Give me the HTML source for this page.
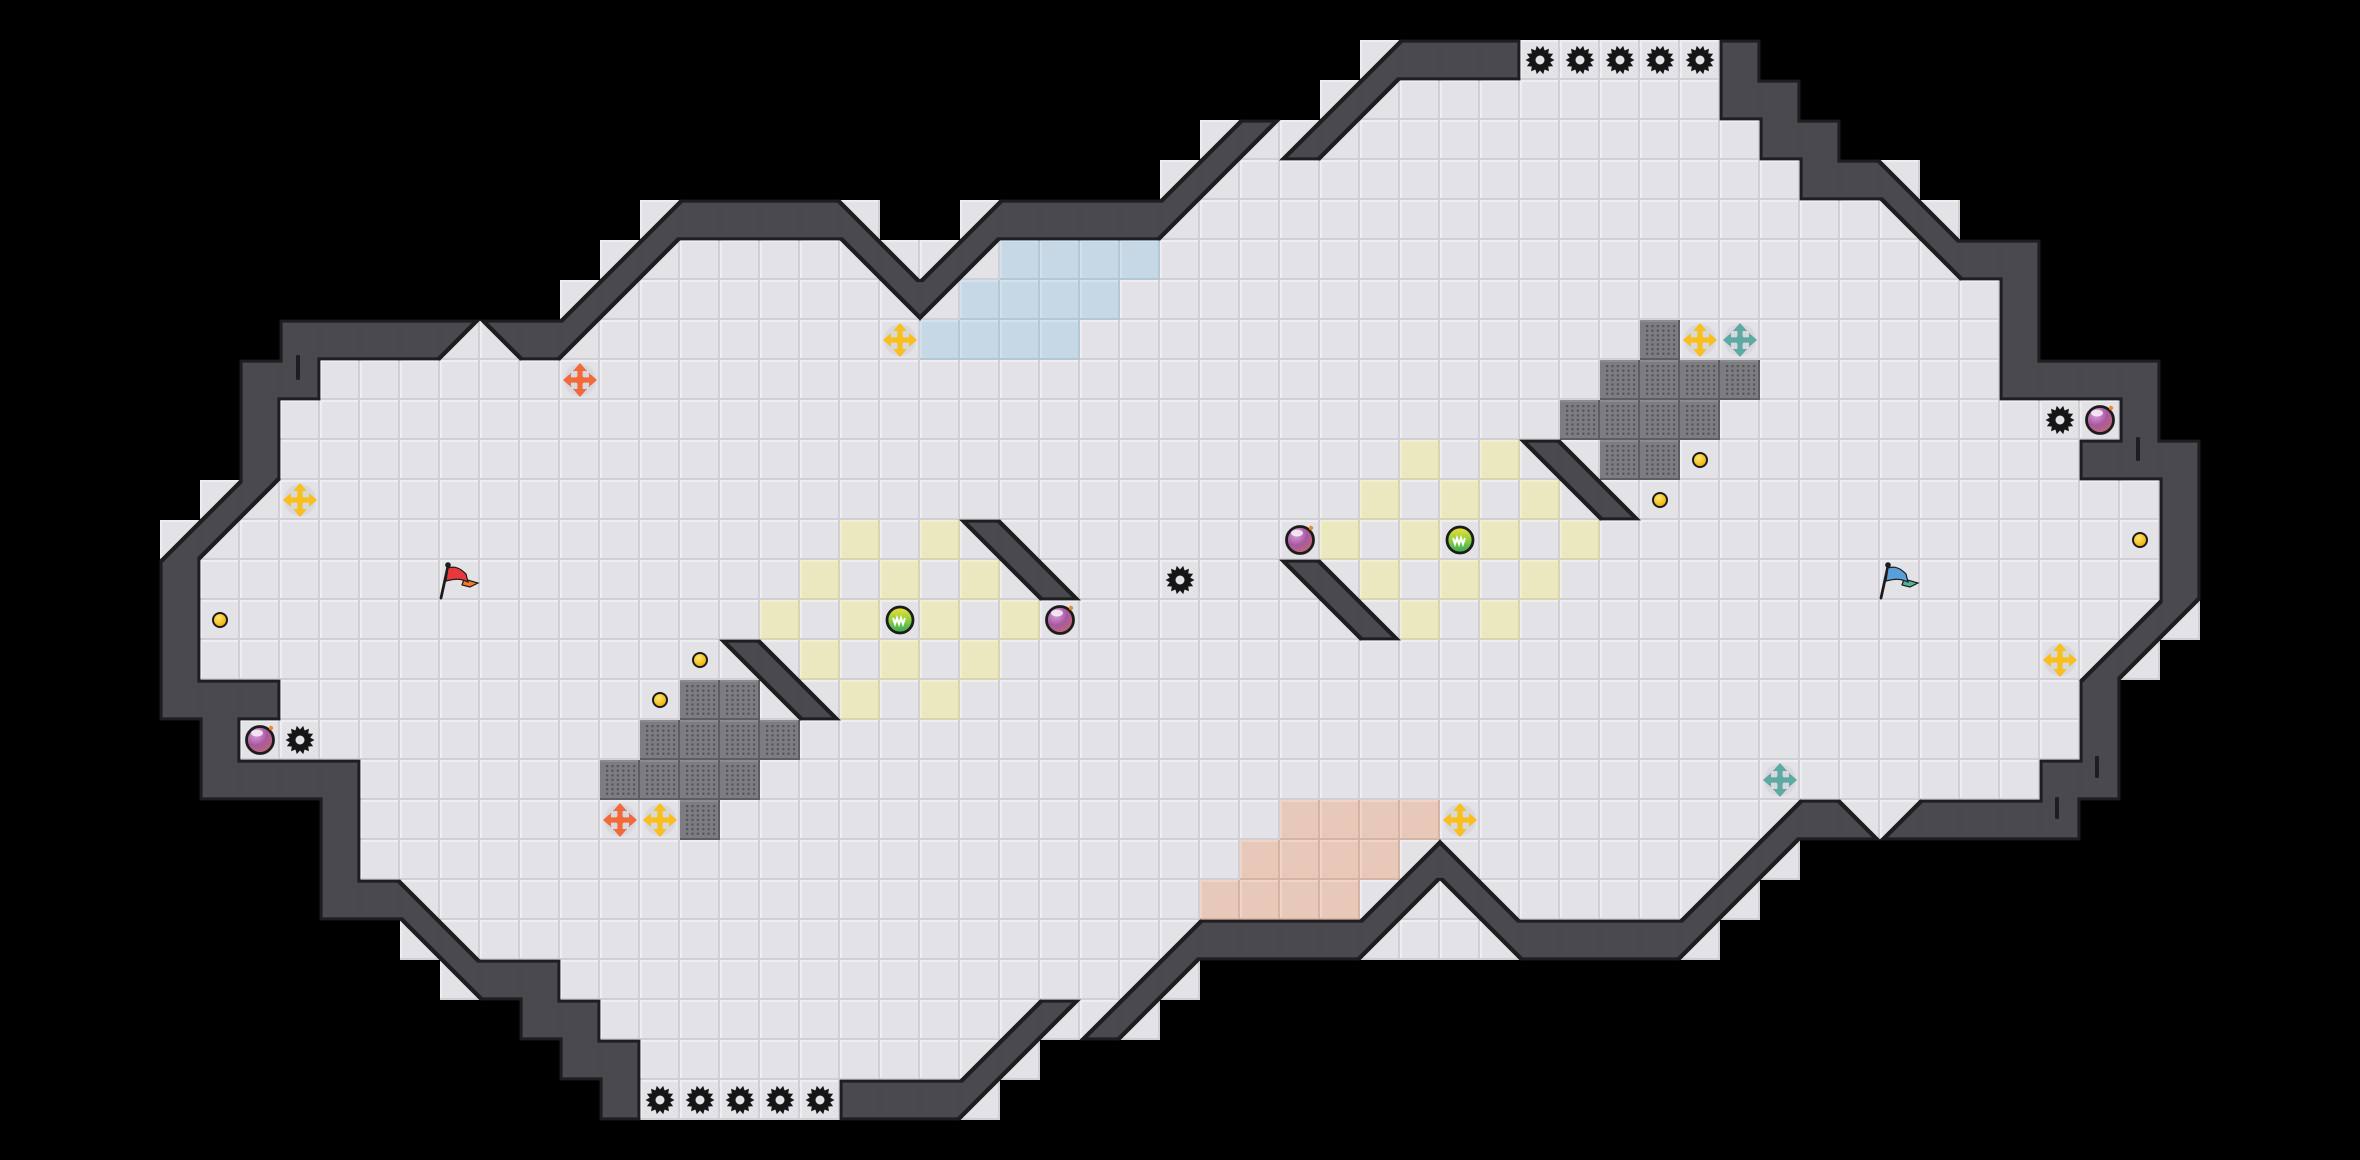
<!DOCTYPE html>
<html><head><meta charset="utf-8">
<style>html,body{margin:0;padding:0;background:#000;width:2360px;height:1160px;overflow:hidden}</style>
</head><body>
<svg id="s" width="2360" height="1160" xmlns="http://www.w3.org/2000/svg" style="display:block"></svg>
<script>
(function(){
var W=59,H=29,T=40;
var g=[];for(var r=0;r<H;r++){var a=[];for(var c=0;c<W;c++)a.push('.');g.push(a);}
var spec={
1:"34:4,35-37:#,38-42:f,43:#",
2:"33:4,34:1,35-42:f,43-44:#",
3:"30:4,31:1,32:4,33:1,34-43:f,44-45:#",
4:"29:4,30:1,31-44:f,45-46:#,47:3",
5:"16:4,17-20:#,21:3,24:4,25-28:#,29:1,30-46:f,47:2,48:3",
6:"15:4,16:1,17-20:f,21:2,22:3,23:4,24:1,25-47:f,48:2,49-50:#",
7:"14:4,15:1,16-21:f,22:2,23:1,24-49:f,50:#",
8:"7-10:#,11:1,12:2,13:#,14:1,15-49:f,50:#",
9:"6-7:#,8-49:f,50-53:#",
10:"6:#,7-52:f,53:#",
11:"6:#,7-51:f,52-54:#,38:2,39:3",
12:"5:4,6:1,7-53:f,54:#,39:2,40:3",
13:"4:4,5:1,6-53:f,54:#,24:2,25:3",
14:"4:#,5-53:f,54:#,25:2,26:3,32:2,33:3",
15:"4:#,5-52:f,53:4,54:1,33:2,34:3",
16:"4:#,5-51:f,52:4,53:1,18:2,19:3",
17:"4-6:#,7-51:f,52:#,19:2,20:3",
18:"5:#,6-51:f,52:#",
19:"5-8:#,9-50:f,51-52:#",
20:"8:#,9-43:f,44:4,45:#,46:3,47:4,48-51:#",
21:"8:#,9-42:f,43:4,44:1,35:4,36:3",
22:"8-9:#,10:3,11-41:f,42:4,43:1,34:4,35:1,36:2,37:3",
23:"10:2,11:3,12-28:f,29:4,30-33:#,34:1,35-36:f,37:2,38-41:#,42:1",
24:"11:2,12-13:#,14-27:f,28:4,29:1",
25:"13-14:#,15-24:f,25:4,26:1,27:4,28:1",
26:"14-15:#,16-23:f,24:4,25:1",
27:"15:#,16-20:f,21-23:#,24:1"
};
for(var k in spec){spec[k].split(',').forEach(function(s){var p=s.split(':'),rg=p[0].split('-'),a=+rg[0],b=rg.length>1?+rg[1]:a;for(var c=a;c<=b;c++)g[+k][c]=p[1];});}
var col={};
function setc(list,ch){list.forEach(function(q){col[q[0]+','+q[1]]=ch;});}
setc([[25,6],[26,6],[27,6],[28,6],[24,7],[25,7],[26,7],[27,7],[23,8],[24,8],[25,8],[26,8]],'b');
setc([[21,13],[23,13],[20,14],[22,14],[24,14],[19,15],[21,15],[23,15],[25,15],[20,16],[22,16],[24,16],[21,17],[23,17],
[35,11],[37,11],[34,12],[36,12],[38,12],[33,13],[35,13],[37,13],[39,13],[34,14],[36,14],[38,14],[35,15],[37,15]],'y');
setc([[32,20],[33,20],[34,20],[35,20],[31,21],[32,21],[33,21],[34,21],[30,22],[31,22],[32,22],[33,22]],'p');
setc([[17,17],[18,17],[16,18],[17,18],[18,18],[19,18],[15,19],[16,19],[17,19],[18,19],[17,20],
[41,8],[40,9],[41,9],[42,9],[43,9],[39,10],[40,10],[41,10],[42,10],[40,11],[41,11]],'g');

function pat(id,base,hi,lo){return '<pattern id="'+id+'" width="40" height="40" patternUnits="userSpaceOnUse"><rect width="40" height="40" fill="'+base+'"/><rect width="40" height="2" fill="'+hi+'"/><rect width="2" height="40" fill="'+hi+'"/><rect x="38" width="2" height="40" fill="'+lo+'"/><rect y="38" width="40" height="2" fill="'+lo+'"/></pattern>';}
var dots='';for(var i=0;i<6;i++)for(var j=0;j<7;j++)dots+='<rect x="'+(6+i*5.4).toFixed(1)+'" y="'+(5+j*4.6).toFixed(1)+'" width="2.2" height="2.2" fill="#55555a"/>';
var out='<defs>'+pat('pf','#e2e2e7','#eeeef2','#cfcfd5')+pat('pb','#c6d8e5','#d2e1eb','#b3c7d6')+pat('py','#ebe8bf','#f2efcf','#d9d6a8')+pat('pp','#e8c8b8','#efd4c7','#d6b3a2')+
'<pattern id="pg" width="40" height="40" patternUnits="userSpaceOnUse"><rect width="40" height="40" fill="#7c7c81"/><rect width="40" height="2" fill="#8c8c91"/><rect x="38" width="2" height="40" fill="#5e5e62"/><rect y="38" width="40" height="2" fill="#5e5e62"/>'+dots+'</pattern>'+
'<filter id="er" x="-2%" y="-2%" width="104%" height="104%"><feMorphology operator="erode" radius="3"/></filter>'+
'<radialGradient id="gb" cx="0.35" cy="0.3" r="0.8"><stop offset="0" stop-color="#d9a0e0"/><stop offset="0.5" stop-color="#a8599e"/><stop offset="1" stop-color="#c56a6a"/></radialGradient>'+
'<linearGradient id="go" x1="0" y1="0" x2="0" y2="1"><stop offset="0" stop-color="#f2e23a"/><stop offset="0.5" stop-color="#8fce3e"/><stop offset="1" stop-color="#2fa85a"/></linearGradient>'+
'<radialGradient id="gc" cx="0.4" cy="0.35" r="0.7"><stop offset="0" stop-color="#ffe866"/><stop offset="1" stop-color="#f0a800"/></radialGradient>'+
'</defs>';
var fl='',walls='';
for(var r=0;r<H;r++)for(var c=0;c<W;c++){var ch=g[r][c];if(ch=='.')continue;var x=c*T,y=r*T;
 var cc=col[c+','+r];var f=cc?('p'+cc):'pf';
 fl+='<rect x="'+x+'" y="'+y+'" width="40" height="40" fill="url(#'+f+')"/>';
 var pts=null;
 if(ch=='#')pts=[x,y,x+40,y,x+40,y+40,x,y+40];
 else if(ch=='1')pts=[x,y,x+40,y,x,y+40];
 else if(ch=='2')pts=[x,y,x+40,y,x+40,y+40];
 else if(ch=='3')pts=[x,y,x,y+40,x+40,y+40];
 else if(ch=='4')pts=[x+40,y,x+40,y+40,x,y+40];
 if(pts)walls+='<polygon points="'+pts.join(',')+'"/>';
}
out+=fl;
out+='<g fill="#1e1e21" stroke="#1e1e21" stroke-width="0.8">'+walls+'</g>';
out+='<g filter="url(#er)"><g fill="#4a4a4f" stroke="#4a4a4f" stroke-width="0.8">'+walls+'</g></g>';
// notches
[[296,355,4,25],[2136,437,4,24],[2095,756,4,22],[2055,797,4,22]].forEach(function(n){out+='<rect x="'+n[0]+'" y="'+n[1]+'" width="'+n[2]+'" height="'+n[3]+'" fill="#1e1e21" rx="1.5"/>';});
function C(t){return t*40+20;}
function gear(c,r){var cx=C(c),cy=C(r),p=[],n=14;for(var i=0;i<n*2;i++){var a=Math.PI*i/n,rr=i%2?10.5:14.5;p.push((cx+rr*Math.cos(a)).toFixed(1)+','+(cy+rr*Math.sin(a)).toFixed(1));}
 return '<polygon points="'+p.join(' ')+'" fill="#161616"/><circle cx="'+cx+'" cy="'+cy+'" r="10.5" fill="#161616"/><circle cx="'+cx+'" cy="'+cy+'" r="4.5" fill="#e2e2e7"/>';}
function cross(c,r,k){var cx=C(c),cy=C(r);var s='<circle cx="'+cx+'" cy="'+cy+'" r="16" fill="#d3d3d8" opacity="0.7"/><g fill="'+k+'">';
 [0,90,180,270].forEach(function(rot){s+='<path transform="rotate('+rot+' '+cx+' '+cy+')" d="M'+(cx-2.6)+' '+cy+' L'+(cx-2.6)+' '+(cy-9)+' L'+(cx-7)+' '+(cy-9)+' L'+cx+' '+(cy-17)+' L'+(cx+7)+' '+(cy-9)+' L'+(cx+2.6)+' '+(cy-9)+' L'+(cx+2.6)+' '+cy+' Z"/>';});
 return s+'<circle cx="'+cx+'" cy="'+cy+'" r="4.5"/></g>';}
function bomb(c,r){var cx=C(c),cy=C(r);return '<circle cx="'+cx+'" cy="'+cy+'" r="13.5" fill="url(#gb)" stroke="#1c1c1c" stroke-width="2.8"/><ellipse cx="'+(cx-3)+'" cy="'+(cy-7)+'" rx="6" ry="3.5" fill="#fff" opacity="0.75"/><circle cx="'+(cx+11)+'" cy="'+(cy-12)+'" r="2.2" fill="#f08a30"/>';}
function orb(c,r){var cx=C(c),cy=C(r);return '<circle cx="'+cx+'" cy="'+cy+'" r="13" fill="url(#go)" stroke="#1c1c1c" stroke-width="2.8"/><path d="M'+(cx-7)+' '+(cy-2)+' l2 6 l2 -6 l2 6 l2 -6 l2 6 l2 -6" fill="none" stroke="#fff" stroke-width="2"/>';}
function coin(c,r){var cx=C(c),cy=C(r);return '<circle cx="'+cx+'" cy="'+cy+'" r="7" fill="url(#gc)" stroke="#1c1c1c" stroke-width="2"/>';}
function flag(c,r,k1,k2){var x=c*40,y=r*40;return '<path d="M'+(x+1)+' '+(y+38)+' L'+(x+8)+' '+(y+6)+'" stroke="#1c1c1c" stroke-width="2.8" stroke-linecap="round"/><circle cx="'+(x+8)+'" cy="'+(y+5)+'" r="2.8" fill="#1c1c1c"/>'+
 '<path d="M'+(x+24)+' '+(y+19)+' L'+(x+38)+' '+(y+23)+' L'+(x+30)+' '+(y+27)+' L'+(x+22)+' '+(y+25)+' Z" fill="'+k2+'" stroke="#1c1c1c" stroke-width="1.2"/>'+
 '<path d="M'+(x+8)+' '+(y+8)+' C'+(x+16)+' '+(y+5)+' '+(x+22)+' '+(y+10)+' '+(x+26)+' '+(y+14)+' L'+(x+28)+' '+(y+22)+' C'+(x+20)+' '+(y+18)+' '+(x+14)+' '+(y+19)+' '+(x+6)+' '+(y+21)+' Z" fill="'+k1+'" stroke="#1c1c1c" stroke-width="1.2"/>';}
var it='';
for(var c=38;c<=42;c++)it+=gear(c,1);
for(var c=16;c<=20;c++)it+=gear(c,27);
[[7,18],[29,14],[51,10]].forEach(function(q){it+=gear(q[0],q[1]);});
var Y='#f7c01e',O='#f26a3c',Tl='#5fa9a3';
[[22,8,Y],[14,9,O],[7,12,Y],[42,8,Y],[43,8,Tl],[51,16,Y],[44,19,Tl],[36,20,Y],[15,20,O],[16,20,Y]].forEach(function(q){it+=cross(q[0],q[1],q[2]);});
[[6,18],[26,15],[32,13],[52,10]].forEach(function(q){it+=bomb(q[0],q[1]);});
[[22,15],[36,13]].forEach(function(q){it+=orb(q[0],q[1]);});
[[5,15],[17,16],[16,17],[42,11],[41,12],[53,13]].forEach(function(q){it+=coin(q[0],q[1]);});
it+=flag(11,14,'#e8383a','#f07a2a');
it+=flag(47,14,'#5aa0d8','#4fb49a');
out+=it;
document.getElementById('s').innerHTML=out;
})();
</script>
</body></html>
